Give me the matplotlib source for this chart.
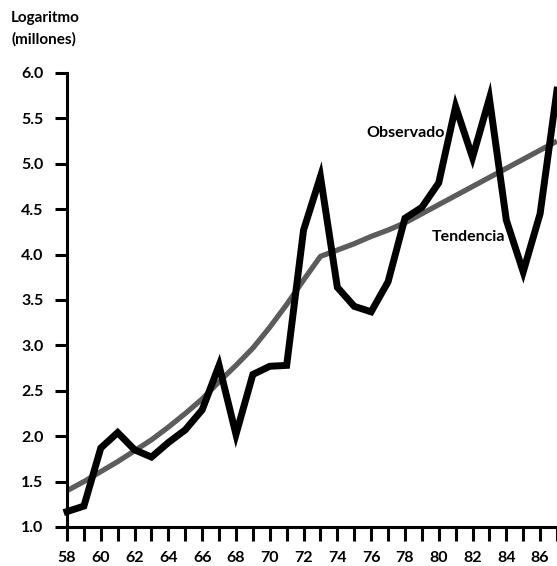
import matplotlib
matplotlib.use("Agg")
import matplotlib.pyplot as plt

years = list(range(58, 88))
observado = [1.17, 1.23, 1.87, 2.04, 1.85, 1.77, 1.93, 2.07, 2.29, 2.78,
             2.02, 2.68, 2.77, 2.78, 4.27, 4.86, 3.64, 3.43, 3.37, 3.70,
             4.40, 4.52, 4.79, 5.63, 5.07, 5.72, 4.38, 3.81, 4.45, 5.81]
tendencia = [1.40, 1.50, 1.61, 1.72, 1.84, 1.96, 2.10, 2.25, 2.41, 2.60,
             2.78, 2.97, 3.20, 3.45, 3.72, 3.98, 4.05, 4.12, 4.20, 4.27,
             4.35, 4.45, 4.55, 4.65, 4.75, 4.85, 4.95, 5.05, 5.15, 5.25]
xtick_labels = [58, 60, 62, 64, 66, 68, 70, 72, 74, 76, 78, 80, 82, 84, 86]
yticks = [1.0, 1.5, 2.0, 2.5, 3.0, 3.5, 4.0, 4.5, 5.0, 5.5, 6.0]

plt.rcParams['font.family'] = ['Lato', 'DejaVu Sans']
plt.rcParams['font.weight'] = 'bold'

fig = plt.figure(figsize=(5.57, 5.66), dpi=100)
ax = fig.add_axes([67/557, 1-527/566, 490/557, 454/566])

ax.plot(years, tendencia, color='#5c5c5c', lw=3.8, solid_capstyle='butt', zorder=2)
ax.plot(years, observado, color='black', lw=5.0, solid_joinstyle='miter', zorder=3, clip_on=False)

ax.set_xlim(58, 87)
ax.set_ylim(1.0, 6.0)
for s in ['top', 'right']:
    ax.spines[s].set_visible(False)
for s in ['left', 'bottom']:
    ax.spines[s].set_linewidth(2.2)

ax.set_yticks(yticks)
ax.set_yticklabels([f"{v:.1f}" for v in yticks], fontsize=11.5, fontweight='bold')
ax.set_xticks(years)
ax.set_xticklabels([str(y) if y in xtick_labels else '' for y in years], fontsize=11.5, fontweight='bold')
ax.tick_params(axis='y', direction='out', length=9, width=2.2, pad=8)
ax.tick_params(axis='x', direction='out', length=10, width=2.2, pad=7)

fig.text(11/557, 1-18/566, "Logaritmo", fontsize=11, fontweight='bold', va='center', ha='left')
fig.text(11/557, 1-39/566, "(millones)", fontsize=11, fontweight='bold', va='center', ha='left')

ax.text(75.7, 5.34, "Observado", fontsize=11.5, fontweight='bold', ha='left', va='center')
ax.text(79.6, 4.19, "Tendencia", fontsize=11.5, fontweight='bold', ha='left', va='center')

fig.savefig("out.png", dpi=100)
